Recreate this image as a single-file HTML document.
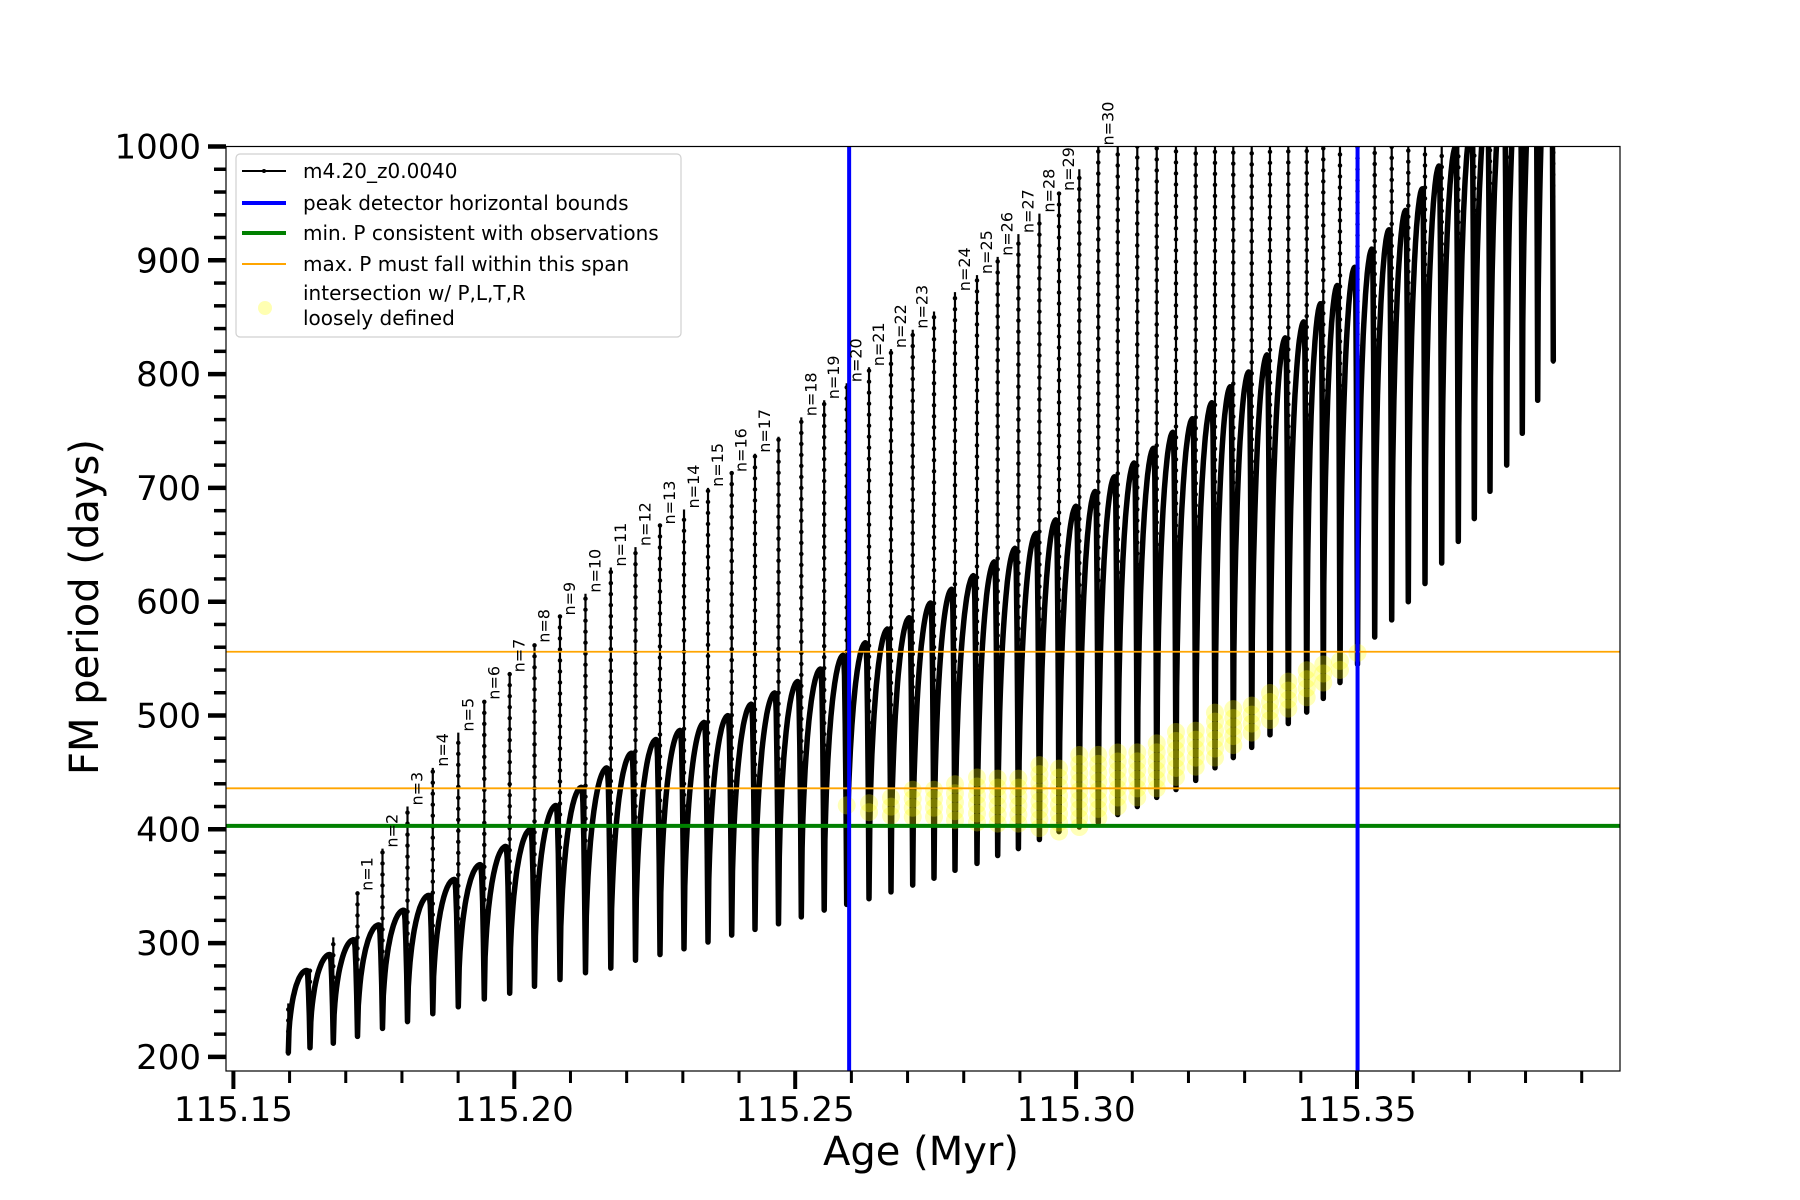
<!DOCTYPE html>
<html><head><meta charset="utf-8"><style>
html,body{margin:0;padding:0;background:#fff}
svg{display:block;font-family:"DejaVu Sans","Liberation Sans",sans-serif}
</style></head><body>
<svg id="chart" width="1800" height="1200" viewBox="0 0 1800 1200" xmlns="http://www.w3.org/2000/svg">
<defs><clipPath id="plotclip"><rect x="226" y="146.5" width="1394" height="924.5"/></clipPath></defs>
<rect x="0" y="0" width="1800" height="1200" fill="#fff"/>
<g id="data" clip-path="url(#plotclip)"></g>
<g id="ref" clip-path="url(#plotclip)"></g>
<g id="labels"></g>
<rect x="226" y="146.5" width="1394" height="924.5" fill="none" stroke="#000" stroke-width="1.2"/>
<g id="axes"></g>
<text x="921" y="1165" font-size="40" text-anchor="middle">Age (Myr)</text>
<text transform="translate(98,607) rotate(-90)" font-size="40" text-anchor="middle">FM period (days)</text>
<g>
<rect x="236" y="154" width="445" height="183" rx="4" fill="#fff" fill-opacity="0.85" stroke="#d0d0d0" stroke-width="1.2"/>
<g><line x1="242" y1="171" x2="286" y2="171" stroke="#000" stroke-width="2"/><circle cx="264" cy="171" r="2" fill="#000"/><text x="303" y="178" font-size="20">m4.20_z0.0040</text></g>
<g><line x1="242" y1="203" x2="286" y2="203" stroke="#0000ff" stroke-width="4"/><text x="303" y="210" font-size="20">peak detector horizontal bounds</text></g>
<g><line x1="242" y1="233" x2="286" y2="233" stroke="#008000" stroke-width="4"/><text x="303" y="240" font-size="20">min. P consistent with observations</text></g>
<g><line x1="242" y1="264" x2="286" y2="264" stroke="#ffa500" stroke-width="2"/><text x="303" y="271" font-size="20">max. P must fall within this span</text></g>
<g><circle cx="265" cy="308" r="7" fill="#ffff00" fill-opacity="0.3"/><text x="303" y="300" font-size="20">intersection w/ P,L,T,R</text><text x="303" y="325" font-size="20">loosely defined</text></g>
</g>
</svg>
<script>
// ---- data ----
const spikeAges = [115.15977,115.16363,115.16778,115.17209,115.17654,115.18099,115.18549,115.19003,115.19466,115.19918,115.20360,115.20813,115.21267,115.21718,115.22157,115.22593,115.23021,115.23448,115.23870,115.24284,115.24703,115.25109,115.25516,115.25917,115.26314,115.26705,115.27092,115.27471,115.27844,115.28236,115.28604,115.28973,115.29347,115.29696,115.30057,115.30395,115.30741,115.31089,115.31435,115.31778,115.32129,115.32472,115.32798,115.33126,115.33451,115.33777,115.34105,115.34400,115.34697,115.35009,115.35315,115.35618,115.35913,115.36210,115.36508,115.36803,115.37088,115.37367,115.37665,115.37942,115.38217,115.38494];
const spikeTops = [247,276,305,345,383,420,454,485,513,537,563,587,607,630,648,667,681,700,713,730,745,762,777,792,806,822,839,855,872,887,903,923,941,960,980,1000,1100,1100,1100,1100,1100,1100,1100,1100,1100,1100,1100,1100,1100,1100,1100,1100,1100,1100,1100,1100,1100,1100,1100,1100,1100,1100];
const spikeBottoms = [203,208,212,218,225,231,238,244,251,256,262,268,274,278,285,290,295,301,307,312,317,323,329,334,339,345,351,357,364,370,377,383,391,398,402,406,413,420,428,435,443,454,463,472,483,493,503,515,529,545,569,584,600,616,634,653,673,697,720,748,777,811];
const arcPeaks = [276,290,303,316,329,342,356,369,385,400,421,437,454,467,479,487,494,500,510,520,530,541,553,564,576,586,599,611,623,635,647,660,672,684,697,710,722,735,749,761,775,789,802,817,832,846,862,878,894,910,927,944,963,983,1000,1020,1040,1060,1080,1100,1120];
const modeNumbers = [null,null,null,1,2,3,4,5,6,7,8,9,10,11,12,13,14,15,16,17,null,18,19,20,21,22,23,null,24,25,26,27,28,29,null,30];
const yellowLo = {23:421,24:415,25:412,26:411,27:411,28:408,29:406,30:405,31:405,32:401,33:398,34:402,35:410,36:420,37:428,38:436,39:446,40:455,41:463,42:474,43:485,44:496,45:506,46:516,47:529,48:540,49:555};
const yellowHi = {23:422,24:429,25:432,26:435,27:437,28:441,29:446,30:448,31:452,32:458,33:461,34:467,35:466,36:470,37:474,38:481,39:488,40:493,41:503,42:507,43:513,44:524,45:533,46:540,47:551,48:553,49:556};
const boundAges = [115.2596, 115.3501];
const minP = [403];
const maxPSpan = [436, 556];
const xTickLabels = ["115.15","115.20","115.25","115.30","115.35"];
const yTickLabels = ["200","300","400","500","600","700","800","900","1000"];

// ---- scales ----
const X = t => 233.4 + (t - 115.15) * 5618;
const Y = v => 829.3 - (v - 400) * 1.138;
const NS = "http://www.w3.org/2000/svg";
function mk(tag, attrs, parent){ const e=document.createElementNS(NS,tag); for(const k in attrs) e.setAttribute(k,attrs[k]); parent.appendChild(e); return e; }
const gData = document.getElementById('data');
const gRef = document.getElementById('ref');
const gLab = document.getElementById('labels');
const gAx = document.getElementById('axes');

// arcs
let d = "";
for (let k = 0; k < arcPeaks.length; k++) {
  const a0 = spikeAges[k], a1 = spikeAges[k+1];
  const b0 = spikeBottoms[k], b1 = spikeBottoms[k+1], pk = arcPeaks[k];
  const sp = 0.86, N = 30;
  for (let i = 0; i <= N; i++) {
    const s = i / N; let v;
    if (s <= sp) { const u = 1 - s/sp; v = b0 + (pk - b0) * Math.sqrt(Math.max(0, 1 - u*u)); }
    else { const u = (s - sp)/(1 - sp); v = pk - (pk - b1) * u * u; }
    d += (k===0 && i===0 ? "M" : "L") + X(a0 + s*(a1-a0)).toFixed(1) + "," + Y(v).toFixed(1);
  }
}
const arc = mk('path', {d:d, fill:'none', stroke:'#000', 'stroke-width':5.5, 'stroke-linejoin':'round'}, gData);



// spikes
for (let k = 0; k < spikeAges.length; k++) {
  const x = X(spikeAges[k]);
  const ln = mk('line', {x1:x, x2:x, y1:Y(spikeBottoms[k]), y2:Y(spikeTops[k]), stroke:'#000', 'stroke-width':2.2}, gData);
  
  
  const dots = mk('line', {x1:x, x2:x, y1:Y(spikeBottoms[k]), y2:Y(spikeTops[k]), stroke:'#000', 'stroke-width':4.5, 'stroke-linecap':'round', 'stroke-dasharray':'0 11'}, gData);
  
  
}

// yellow intersection points
for (const key in yellowLo) {
  const k = +key, x = X(spikeAges[k]);
  const lo = Y(yellowLo[k]), hi = Y(yellowHi[k]);
  for (let y = lo; y >= hi - 0.1; y -= 9) {
    const c = mk('circle', {cx:x, cy:y, r:9, fill:'#ffff00', 'fill-opacity':0.28}, gData);
    
    
  }
}

// reference lines
for (const v of maxPSpan) {
  const l = mk('line', {x1:226, x2:1620, y1:Y(v), y2:Y(v), stroke:'#ffa500', 'stroke-width':1.8}, gRef);
  
  
}
for (const v of minP) {
  const l = mk('line', {x1:226, x2:1620, y1:Y(v), y2:Y(v), stroke:'#008000', 'stroke-width':4}, gRef);
  
  
}
for (const t of boundAges) {
  const l = mk('line', {x1:X(t), x2:X(t), y1:146.5, y2:1071, stroke:'#0000ff', 'stroke-width':4}, gRef);
  
  
}

// mode labels
for (let k = 0; k < modeNumbers.length; k++) {
  if (modeNumbers[k] === null) continue;
  const x = X(spikeAges[k]) + 15, y = Y(Math.min(spikeTops[k], 1000)) - 1;
  const t = mk('text', {transform:`translate(${x.toFixed(1)},${y.toFixed(1)}) rotate(-90)`, 'font-size':16}, gLab);
  t.textContent = 'n=' + modeNumbers[k];
  
  
}

// y axis ticks
for (let v = 200; v <= 1000; v += 20) {
  const major = v % 100 === 0;
  const tk = mk('line', {x1:226 - (major?18:12), x2:226, y1:Y(v), y2:Y(v), stroke:'#000', 'stroke-width':major?4.5:3.5}, gAx);
  
  
}
yTickLabels.forEach(s => {
  const t = mk('text', {x:201, y:Y(+s) + 12, 'font-size':34, 'text-anchor':'end'}, gAx);
  t.textContent = s;
  
  
});
// x axis ticks
for (let i = 0; i <= 24; i++) {
  const t = 115.15 + i * 0.01, major = i % 5 === 0;
  const tk = mk('line', {x1:X(t), x2:X(t), y1:1071, y2:1071 + (major?18:12), stroke:'#000', 'stroke-width':major?4:3}, gAx);
  
  
}
xTickLabels.forEach(s => {
  const t = mk('text', {x:X(+s), y:1121, 'font-size':34, 'text-anchor':'middle'}, gAx);
  t.textContent = s;
  
  
});
</script>
</body></html>
